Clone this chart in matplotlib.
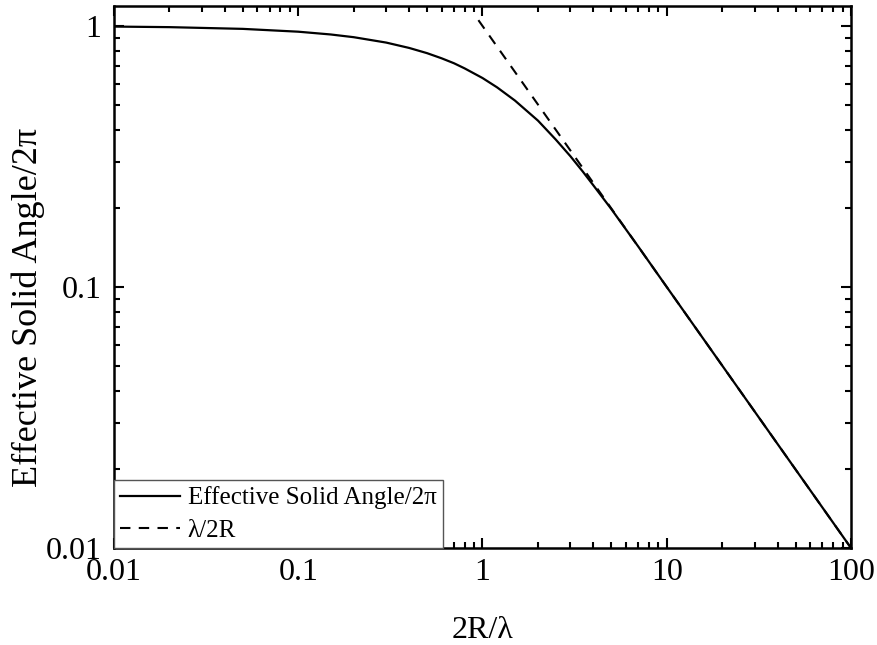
import matplotlib
matplotlib.use("Agg")
import matplotlib.pyplot as plt
from matplotlib.ticker import LogLocator, FixedLocator, FixedFormatter, NullFormatter

plt.rcParams['font.family'] = ['Liberation Serif', 'DejaVu Serif']

# Values
x_solid = [0.01, 0.02, 0.05, 0.1, 0.15, 0.2, 0.3, 0.4, 0.5, 0.6, 0.7, 0.8, 1.0,
           1.2, 1.5, 2.0, 2.5, 3.0, 3.5, 4.0, 5.0, 7.0, 10.0, 20.0, 50.0, 100.0]
y_solid = [0.995, 0.99, 0.975, 0.951, 0.928, 0.906, 0.864, 0.824, 0.787, 0.752,
           0.72, 0.688, 0.632, 0.582, 0.518, 0.434, 0.367, 0.317, 0.277, 0.245,
           0.199, 0.143, 0.1, 0.05, 0.02, 0.01]
x_dash = [0.95, 100.0]
y_dash = [1.053, 0.01]

series_labels = ["Effective Solid Angle/2\u03c0", "\u03bb/2R"]
x_label = "2R/\u03bb"
y_label = "Effective Solid Angle/2\u03c0"
x_ticks = [0.01, 0.1, 1, 10, 100]
x_tick_labels = ["0.01", "0.1", "1", "10", "100"]
y_ticks = [0.01, 0.1, 1]
y_tick_labels = ["0.01", "0.1", "1"]

fig = plt.figure(figsize=(8.78, 6.45), dpi=100)
ax = fig.add_axes([114/878, 1 - 548/645, (851-114)/878, (548-6)/645])

ax.plot(x_dash, y_dash, color='black', lw=1.5, linestyle=(0, (5, 4)),
        label=series_labels[1], zorder=2)
ax.plot(x_solid, y_solid, color='black', lw=1.6, label=series_labels[0], zorder=3)

ax.set_xscale('log')
ax.set_yscale('log')
ax.set_xlim(0.01, 100)
ax.set_ylim(0.01, 1.193)

ax.xaxis.set_major_locator(FixedLocator(x_ticks))
ax.xaxis.set_major_formatter(FixedFormatter(x_tick_labels))
ax.yaxis.set_major_locator(FixedLocator(y_ticks))
ax.yaxis.set_major_formatter(FixedFormatter(y_tick_labels))
ax.xaxis.set_minor_locator(LogLocator(base=10, subs=range(2, 10), numticks=20))
ax.yaxis.set_minor_locator(LogLocator(base=10, subs=range(2, 10), numticks=20))
ax.xaxis.set_minor_formatter(NullFormatter())
ax.yaxis.set_minor_formatter(NullFormatter())

ax.tick_params(which='both', direction='in', top=True, right=True, width=1.5)
ax.tick_params(which='major', length=7.5, labelsize=23)
ax.tick_params(which='minor', length=4)
ax.tick_params(axis='x', which='major', pad=7)
ax.tick_params(axis='y', which='major', pad=9)

for s in ax.spines.values():
    s.set_linewidth(1.8)

ax.set_xlabel(x_label, fontsize=23, labelpad=21)
ax.set_ylabel(y_label, fontsize=26)
ax.yaxis.set_label_coords(-0.094, 0.444)

handles, labels = ax.get_legend_handles_labels()
leg = ax.legend(handles[::-1], labels[::-1], loc='lower left', bbox_to_anchor=(0, 0.0),
                borderaxespad=0, fontsize=18, handlelength=2.4, handletextpad=0.3,
                labelspacing=0.4, borderpad=0.25, fancybox=False, framealpha=1,
                edgecolor='#555555')
leg.get_frame().set_linewidth(1.0)
leg.set_zorder(5)

fig.savefig("out.png", dpi=100)
